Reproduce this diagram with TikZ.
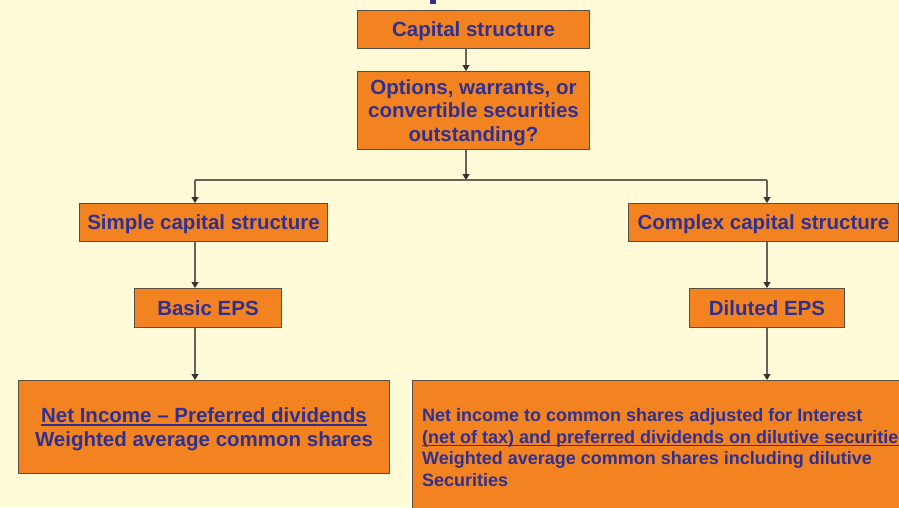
\documentclass[tikz,border=0pt]{standalone}
\usepackage{fontspec}
\setmainfont{Liberation Sans}
\usetikzlibrary{arrows.meta}
\definecolor{bg}{RGB}{255,250,215}
\definecolor{boxfill}{RGB}{243,130,33}
\definecolor{boxline}{RGB}{90,78,66}
\definecolor{txt}{RGB}{46,49,146}
\definecolor{conn}{RGB}{105,98,90}
\newcommand\myul[1]{\setbox0\hbox{#1}\rlap{\rule[-3pt]{\wd0}{1.3pt}}\box0}
\tikzset{
  box/.style={draw=boxline, fill=boxfill, line width=1pt, inner sep=0pt, text depth=0pt, anchor=north west, text=txt, font=\bfseries\fontsize{20.5}{23.5}\selectfont, align=center},
  arr/.style={draw=conn, line width=1.1pt, -{Triangle[width=7pt,length=6pt,fill=black!80,color=black!80]}},
  line/.style={draw=conn, line width=1.1pt}
}
\begin{document}
\begin{tikzpicture}[x=1pt,y=-1pt]
\useasboundingbox (0,0) rectangle (899,507);
\clip (0,0) rectangle (899,507);
\fill[bg] (0,0) rectangle (899,507);
\fill[txt] (430,0) rectangle (436,4);
\node[box, minimum width=232, minimum height=38] (cap) at (357,10) {Capital structure};
\node[box, minimum width=232, minimum height=78] (opt) at (357,71) {Options, warrants, or\\convertible securities\\outstanding?};
\node[box, minimum width=248, minimum height=38] (simple) at (79,203) {Simple capital structure};
\node[box, minimum width=270, minimum height=38] (complex) at (628,203) {Complex capital structure};
\node[box, minimum width=147, minimum height=39] (basic) at (134,288) {Basic EPS};
\node[box, minimum width=155, minimum height=39] (diluted) at (689,288) {Diluted EPS};
\node[box, minimum width=371, minimum height=93] (lbox) at (18,380) {\myul{Net Income -- Preferred dividends}\\Weighted average common shares};
\node[box, minimum width=520, minimum height=160] (rbox) at (412,380) {};
\node[anchor=west, text=txt, font=\bfseries\fontsize{18}{21.7}\selectfont, align=left, inner sep=0pt] (rtext) at (422,447.5) {Net income to common shares adjusted for Interest\\\myul{(net of tax) and preferred dividends on dilutive securities}\\Weighted average common shares including dilutive\\Securities};
\coordinate (j) at (466,180);
\coordinate (jl) at (195,180);
\coordinate (jr) at (767,180);
\draw[arr] (cap.south -| j) -- (opt.north -| j);
\draw[arr] (opt.south -| j) -- (j);
\draw[line] (jl) -- (jr);
\draw[arr] (jl) -- (simple.north -| jl);
\draw[arr] (jr) -- (complex.north -| jr);
\draw[arr] (simple.south -| jl) -- (basic.north -| jl);
\draw[arr] (complex.south -| jr) -- (diluted.north -| jr);
\draw[arr] (basic.south -| jl) -- (lbox.north -| jl);
\draw[arr] (diluted.south -| jr) -- (rbox.north -| jr);
\end{tikzpicture}
\end{document}
